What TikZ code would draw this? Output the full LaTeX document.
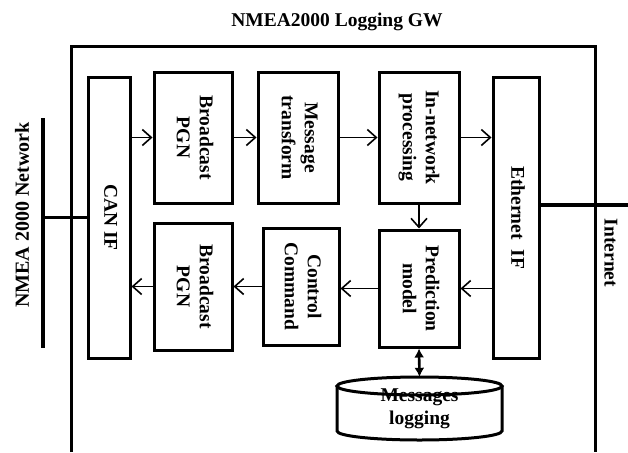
\documentclass[tikz,border=0pt]{standalone}
\usepackage{fontspec}
\setmainfont{Liberation Serif}
\usepackage{graphicx}
\usetikzlibrary{arrows.meta}

% vertical text, reading top to bottom, first line on the right
\newcommand{\vlines}[1]{\rotatebox{-90}{\begin{tabular}{@{}c@{}}#1\end{tabular}}}

\begin{document}
\begin{tikzpicture}[x=1pt,y=-1pt,
  lbl/.style={font=\fontsize{19.5}{23}\selectfont\bfseries, inner sep=0pt},
  blockbox/.style={draw, line width=3pt, inner sep=0pt, lbl},
  wire/.style={line width=3.5pt},
  flow/.style={line width=1.6pt, -{Straight Barb[length=9pt,width=16pt,line width=1.6pt]}},
  store/.style={line width=2.6pt, {Latex[length=9pt,width=10pt]}-{Latex[length=9pt,width=10pt]}}
]
\useasboundingbox (0,0) rectangle (628,452);

% title and gateway frame
\node[lbl] (title) at (337,22) {NMEA2000 Logging GW};
\draw[line width=3pt] (71,452) -- (71,47) -- (595,47) -- (595,452);

% processing blocks
\node[blockbox, minimum width=42, minimum height=281] (can) at (109,217.5) {\vlines{CAN IF}};
\node[blockbox, minimum width=78, minimum height=131] (b1) at (193,137.5) {\vlines{Broadcast\\PGN}};
\node[blockbox, minimum width=80, minimum height=131] (msg) at (298,137.5) {\vlines{Message\\transform}};
\node[blockbox, minimum width=80, minimum height=131] (inn) at (419,137.5) {\vlines{In-network\\processing}};
\node[blockbox, minimum width=46, minimum height=281] (eth) at (516,217.5) {\vlines{Ethernet\ \ IF}};
\node[blockbox, minimum width=78, minimum height=127] (b2) at (193,286.5) {\vlines{Broadcast\\PGN}};
\node[blockbox, minimum width=76, minimum height=117] (ctl) at (301,286.5) {\vlines{Control\\Command}};
\node[blockbox, minimum width=80, minimum height=117] (pred) at (419,288.5) {\vlines{Prediction\\model}};

% message store (cylinder)
\draw[line width=3pt] (337,386) -- (337,431)
  arc[start angle=180, end angle=360, x radius=82.5pt, y radius=9pt] -- (502,386);
\draw[line width=3pt] (419.5,386) ellipse [x radius=82.5pt, y radius=9pt];
\node[lbl, minimum width=165, minimum height=63, align=center] (log) at (419.5,408.5)
  {\raisebox{-4pt}{\begin{tabular}{@{}c@{}}Messages\\logging\end{tabular}}};

% NMEA 2000 bus
\coordinate (bustop) at (43,118);
\coordinate (busbot) at (43,348);
\coordinate (bustap) at (43,217.5);
\draw[wire] (bustop) -- (busbot);
\draw[wire] (bustap) -- (can.west);
\node[lbl, rotate=90, font=\fontsize{20}{23}\selectfont\bfseries] (net) at (22,215) {NMEA 2000 Network};

% Internet uplink
\coordinate (inetend) at (628,205);
\draw[wire] (eth.east |- inetend) -- (inetend);
\node[lbl, rotate=-90] (inet) at (611,253) {Internet};

% data flow, receive path
\draw[flow] (b1.west -| can.east) -- (b1.west);
\draw[flow] (b1.east) -- (msg.west);
\draw[flow] (msg.east) -- (inn.west);
\draw[flow] (inn.east) -- (inn.east -| eth.west);
\draw[flow] (inn.south) -- (pred.north);

% data flow, control path
\draw[flow] (pred.east -| eth.west) -- (pred.east);
\draw[flow] (pred.west) -- (pred.west -| ctl.east);
\draw[flow] (ctl.west) -- (ctl.west -| b2.east);
\draw[flow] (b2.west) -- (b2.west -| can.east);

% logging
\draw[store] (pred.south) -- (log.north);
\end{tikzpicture}
\end{document}
